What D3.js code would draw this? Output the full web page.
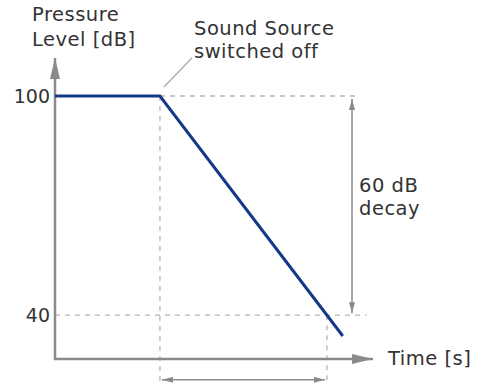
<!DOCTYPE html>
<html>
<head>
<meta charset="utf-8">
<script src="https://cdn.jsdelivr.net/npm/d3@7"></script>
<style>
  body { margin: 0; background: #fff; }
  text { font-family: "DejaVu Sans", Verdana, sans-serif; fill: #333; }
</style>
</head>
<body>
<div id="chart"></div>
<script>
// reverberation decay: time (arbitrary units) vs sound pressure level (dB)
const times = [0, 3.3, 9.05];
const levels = [100, 100, 34.3];
const tickLevels = [40, 100];
const switchOffTime = 3.3;
const decayEndTime = 8.55;
const decayTop = 100;
const decayBottom = 40;

const width = 500, height = 383;
const gray = "#8a8a8a";
const dashGray = "#b5b5b5";

const svg = d3.select("#chart").append("svg")
    .attr("width", width)
    .attr("height", height);

const x = d3.scaleLinear().domain([0, 10]).range([55, 373]);
const y = d3.scaleLinear().domain([28, 110.4]).range([359, 58]);

const defs = svg.append("defs");
function marker(id, w, h) {
    defs.append("marker")
        .attr("id", id)
        .attr("viewBox", `0 0 ${w} ${h}`)
        .attr("refX", w).attr("refY", h / 2)
        .attr("markerWidth", w).attr("markerHeight", h)
        .attr("markerUnits", "userSpaceOnUse")
        .attr("orient", "auto-start-reverse")
        .append("path")
        .attr("d", `M0,0L${w},${h / 2}L0,${h}Z`)
        .attr("fill", gray);
}
marker("axisHead", 21, 10);
marker("smallHead", 11, 6);

// dashed guide lines
const guides = [
    [[switchOffTime, decayTop], [9.45, decayTop]],
    [[0, decayBottom], [9.8, decayBottom]],
    [[switchOffTime, decayTop], [switchOffTime, 21]],
    [[decayEndTime, decayBottom], [decayEndTime, 21]]
];
svg.append("g").selectAll("line")
    .data(guides)
    .join("line")
    .attr("x1", d => x(d[0][0])).attr("y1", d => y(d[0][1]))
    .attr("x2", d => x(d[1][0])).attr("y2", d => y(d[1][1]))
    .attr("stroke", dashGray)
    .attr("stroke-width", 1.3)
    .attr("stroke-dasharray", "5,5");

// axes
svg.append("path")
    .attr("d", `M${x(0)},${y(110.4)}L${x(0)},${y(28)}L${x(10)},${y(28)}`)
    .attr("fill", "none")
    .attr("stroke", gray)
    .attr("stroke-width", 2.5)
    .attr("marker-start", "url(#axisHead)")
    .attr("marker-end", "url(#axisHead)");

svg.append("g")
    .attr("transform", `translate(${x(0) - 5},0)`)
    .call(d3.axisLeft(y).tickValues(tickLevels).tickSize(0).tickPadding(0))
    .call(g => g.select(".domain").remove())
    .selectAll("text")
    .attr("font-size", 19)
    .attr("font-family", "DejaVu Sans, Verdana, sans-serif")
    .attr("fill", "#333");

// decay curve
svg.append("path")
    .datum(times.map((t, i) => [t, levels[i]]))
    .attr("d", d3.line().x(d => x(d[0])).y(d => y(d[1])))
    .attr("fill", "none")
    .attr("stroke", "#15388a")
    .attr("stroke-width", 3);

// 60 dB span arrow
svg.append("line")
    .attr("x1", x(9.34)).attr("y1", y(decayTop) + 3)
    .attr("x2", x(9.34)).attr("y2", y(decayBottom) - 2)
    .attr("stroke", gray)
    .attr("stroke-width", 1.5)
    .attr("marker-start", "url(#smallHead)")
    .attr("marker-end", "url(#smallHead)");

// reverberation time span arrow
svg.append("line")
    .attr("x1", x(switchOffTime) + 2).attr("y1", y(22.3))
    .attr("x2", x(decayEndTime) - 2).attr("y2", y(22.3))
    .attr("stroke", gray)
    .attr("stroke-width", 1.5)
    .attr("marker-start", "url(#smallHead)")
    .attr("marker-end", "url(#smallHead)");

// leader line from switch-off point
svg.append("line")
    .attr("x1", x(switchOffTime) + 4).attr("y1", y(decayTop) - 9)
    .attr("x2", x(switchOffTime) + 32).attr("y2", y(decayTop) - 38)
    .attr("stroke", "#aaa")
    .attr("stroke-width", 1.3);

// labels
function label(tx, ty, lines, lh) {
    const t = svg.append("text")
        .attr("x", tx).attr("y", ty)
        .attr("font-size", 19.5)
        .attr("letter-spacing", 0.5);
    lines.forEach((s, i) => {
        t.append("tspan").attr("x", tx).attr("dy", i ? lh : 0).text(s);
    });
}
label(32, 21, ["Pressure", "Level [dB]"], 25);
label(194, 35, ["Sound Source", "switched off"], 23);
label(359, 192, ["60 dB", "decay"], 23);
label(388, 365, ["Time [s]"], 0);
</script>
</body>
</html>
